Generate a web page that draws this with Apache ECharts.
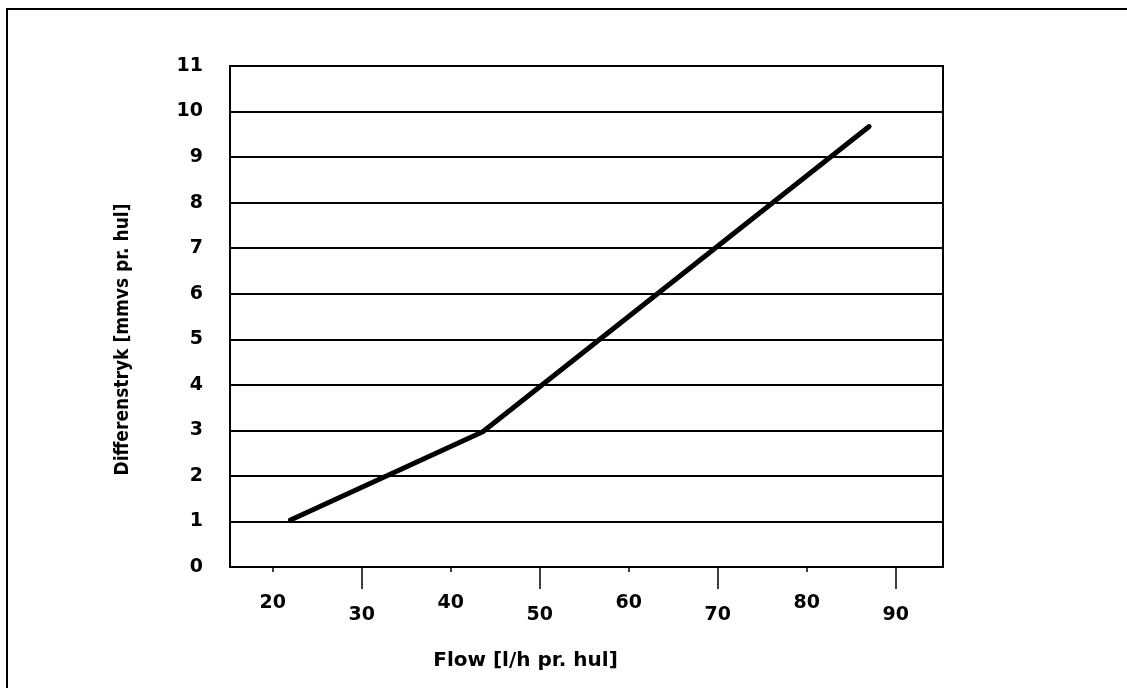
<!DOCTYPE html>
<html>
<head>
<meta charset="utf-8">
<script src="https://cdn.jsdelivr.net/npm/echarts@6/dist/echarts.min.js"></script>
<style>
html,body{margin:0;padding:0;background:#fff;}
#c{width:1127px;height:688px;}
</style>
</head>
<body>
<div id="c"></div>
<script>
// Data
const flowX = [22, 43.6, 87];
const diffY = [1.03, 2.97, 9.67];
const xTicksUpper = [20, 40, 60, 80];
const xTicksLower = [30, 50, 70, 90];
const xTitle = 'Flow [l/h pr. hul]';
const yTitle = 'Differenstryk [mmvs pr. hul]';

const font = '"DejaVu Sans", "Liberation Sans", Arial, sans-serif';
const chart = echarts.init(document.getElementById('c'), null, {renderer: 'canvas'});

const xMin = 15.2, xMax = 95.3;

chart.setOption({
  animation: false,
  backgroundColor: '#fff',
  graphic: [{
    type: 'rect',
    shape: {x: 7, y: 9, width: 1300, height: 900},
    style: {fill: 'none', stroke: '#000', lineWidth: 2},
    silent: true, z: -10
  }],
  grid: {
    left: 230, right: 184, top: 66, bottom: 121,
    show: true, borderColor: '#000', borderWidth: 2, backgroundColor: 'transparent'
  },
  xAxis: [{
    type: 'value', min: xMin, max: xMax,
    position: 'bottom',
    name: xTitle, nameLocation: 'middle', nameGap: 84,
    nameTextStyle: {fontFamily: font, fontWeight: 'bold', fontSize: 20, color: '#000', padding: [0, 122, 0, 0]},
    axisLine: {show: true, onZero: false, lineStyle: {color: '#000', width: 2}},
    axisTick: {show: true, customValues: xTicksUpper, length: 5, lineStyle: {color: '#000', width: 1.5}},
    axisLabel: {show: true, customValues: xTicksUpper, margin: 27, fontFamily: font, fontWeight: 'bold', fontSize: 19, color: '#000'},
    splitLine: {show: false}
  }, {
    type: 'value', min: xMin, max: xMax,
    position: 'bottom',
    axisLine: {show: false, onZero: false},
    axisTick: {show: true, customValues: xTicksLower, length: 22, lineStyle: {color: '#000', width: 1.5}},
    axisLabel: {show: true, customValues: xTicksLower, margin: 39, fontFamily: font, fontWeight: 'bold', fontSize: 19, color: '#000'},
    splitLine: {show: false}
  }],
  yAxis: {
    type: 'value', min: 0, max: 11, interval: 1,
    name: yTitle, nameLocation: 'middle', nameGap: 97, nameRotate: 90,
    nameTextStyle: {fontFamily: '"DejaVu Sans Condensed", "DejaVu Sans", sans-serif', fontWeight: 'bold', fontSize: 19, color: '#000', padding: [0, 46, 0, 0]},
    axisLine: {show: true, lineStyle: {color: '#000', width: 2}},
    axisTick: {show: false},
    axisLabel: {margin: 27, fontFamily: font, fontWeight: 'bold', fontSize: 19, color: '#000'},
    splitLine: {show: true, lineStyle: {color: '#000', width: 2}}
  },
  series: [{
    type: 'line',
    xAxisIndex: 0,
    data: flowX.map((x, i) => [x, diffY[i]]),
    showSymbol: false,
    lineStyle: {color: '#000', width: 5, cap: 'round', join: 'round'},
    z: 5
  }]
});
</script>
</body>
</html>
